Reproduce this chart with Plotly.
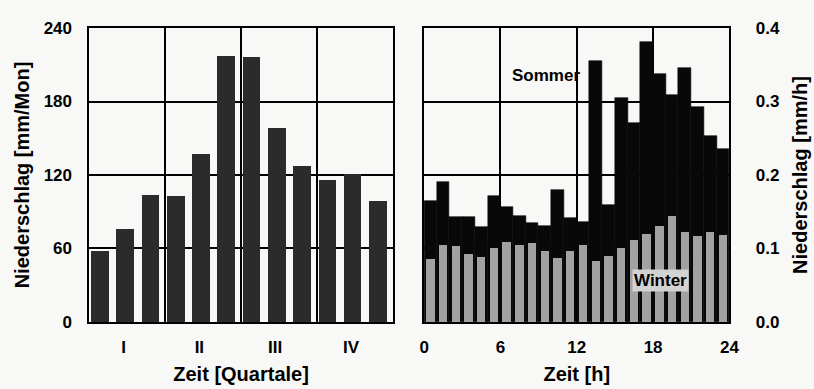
import plotly.graph_objects as go

# ---- data ----
months = list(range(1, 13))
monthly_precip = [58, 76, 104, 103, 137, 217, 216, 158, 127, 116, 121, 99]  # mm/Mon
quarter_labels = ["I", "II", "III", "IV"]

hours = list(range(24))
summer = [0.165, 0.191, 0.143, 0.143, 0.129, 0.172, 0.157, 0.144, 0.134, 0.130,
          0.180, 0.141, 0.136, 0.355, 0.159, 0.305, 0.271, 0.381, 0.338, 0.309,
          0.346, 0.292, 0.253, 0.236]  # mm/h
winter = [0.086, 0.105, 0.103, 0.092, 0.088, 0.101, 0.109, 0.105, 0.107, 0.097,
          0.087, 0.097, 0.104, 0.083, 0.090, 0.101, 0.112, 0.120, 0.131, 0.144,
          0.123, 0.117, 0.123, 0.118]  # mm/h

FONT = "Arial, 'Liberation Sans', sans-serif"
BG = "#f8f8f6"

fig = go.Figure()
fig.add_trace(go.Bar(x=[m - 0.57 for m in months], y=monthly_precip, width=0.7,
                     marker=dict(color="#2b2b2b", line=dict(width=0)),
                     xaxis="x", yaxis="y", showlegend=False))
fig.add_trace(go.Bar(x=[h + 0.5 for h in hours], y=summer, width=1.0,
                     marker=dict(color="#080808", line=dict(width=0.6, color="#080808")),
                     xaxis="x2", yaxis="y2", showlegend=False))
fig.add_trace(go.Bar(x=[h + 0.5 for h in hours], y=winter, width=0.66,
                     marker=dict(color="#a2a2a2", line=dict(width=0)),
                     xaxis="x2", yaxis="y2", showlegend=False))

W, H = 814, 389
axis_common = dict(showline=True, mirror=True, linecolor="black", linewidth=2,
                   gridcolor="black", gridwidth=1.5, zeroline=False, ticks="",
                   tickfont=dict(family=FONT, size=17, color="black", weight="bold"))
title_font = dict(family=FONT, size=20, color="black", weight="bold")

fig.update_layout(
    width=W, height=H,
    margin=dict(l=0, r=0, t=0, b=0),
    paper_bgcolor=BG, plot_bgcolor=BG,
    barmode="overlay", bargap=0,
    xaxis=dict(domain=[86 / W, 395 / W], range=[0, 12], anchor="y",
               tickvals=[1.35, 4.35, 7.35, 10.35], ticktext=quarter_labels,
               showgrid=False, ticklabelstandoff=9,
               minor=dict(tickvals=[3, 6, 9], showgrid=True, gridcolor="black",
                          gridwidth=1.5, ticks=""),
               title=dict(text="Zeit [Quartale]", font=title_font, standoff=11),
               **axis_common),
    yaxis=dict(domain=[1 - 329 / H, 1 - 20 / H], range=[0, 240], anchor="x",
               tickvals=[0, 60, 120, 180, 240], showgrid=True, ticklabelstandoff=12,
               title=dict(text="Niederschlag [mm/Mon]", font=title_font, standoff=9),
               **axis_common),
    xaxis2=dict(domain=[427 / W, 738 / W], range=[0, 24], anchor="y2",
                tickvals=[0, 6, 12, 18, 24], showgrid=True, ticklabelstandoff=9,
                title=dict(text="Zeit [h]", font=title_font, standoff=11),
                **axis_common),
    yaxis2=dict(domain=[1 - 329 / H, 1 - 20 / H], range=[0, 0.4], anchor="x2",
                side="right", tickvals=[0, 0.1, 0.2, 0.3, 0.4], tickformat=".1f",
                showgrid=True, ticklabelstandoff=21,
                title=dict(text="Niederschlag [mm/h]", font=title_font, standoff=14),
                **axis_common),
    annotations=[
        dict(text="Sommer", x=9.6, y=0.335, xref="x2", yref="y2", showarrow=False,
             font=dict(family=FONT, size=17, color="black", weight="bold")),
        dict(text="Winter", x=18.6, y=0.057, xref="x2", yref="y2", showarrow=False,
             bgcolor="#d2d2d2", borderpad=1,
             font=dict(family=FONT, size=17, color="black", weight="bold")),
    ],
)

fig.write_html("out.html")
